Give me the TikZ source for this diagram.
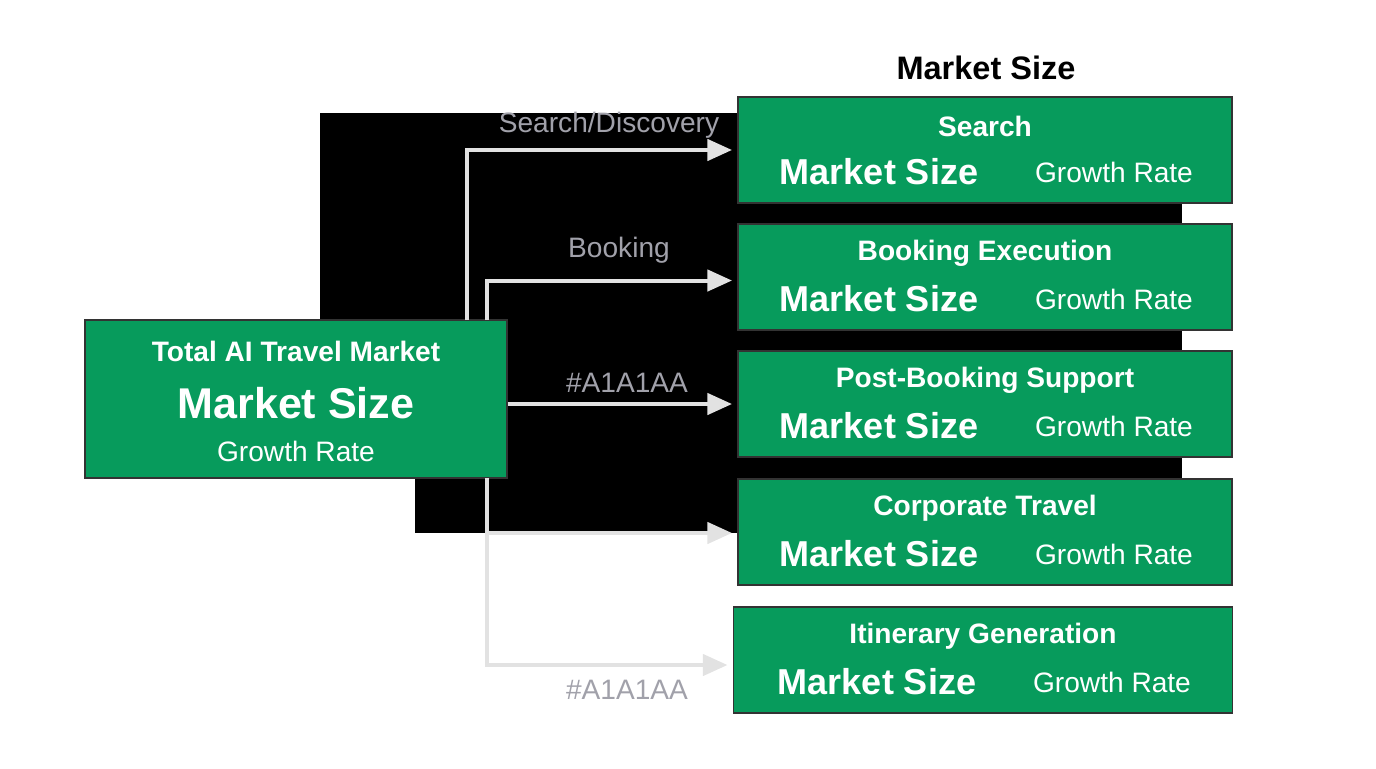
\documentclass[tikz,border=0pt]{standalone}
\usepackage{fontspec}
\setmainfont{Liberation Sans}
\usetikzlibrary{arrows.meta}
\definecolor{boxgreen}{HTML}{079B5C}
\definecolor{linkgray}{HTML}{E2E2E2}
\definecolor{labgray}{HTML}{A1A1AA}
\begin{document}
\begin{tikzpicture}[x=0.02cm,y=-0.02cm,
  seg/.style={draw=black!80,thick,fill=boxgreen,minimum width=494*0.02cm,minimum height=106*0.02cm,inner sep=0pt},
  head/.style={text=white,font=\bfseries\fontsize{16}{18}\selectfont},
  size/.style={text=white,font=\bfseries\fontsize{20.5}{23}\selectfont},
  rate/.style={text=white,font=\fontsize{16}{18}\selectfont},
  link/.style={draw=linkgray,line width=2.3pt,-{Triangle[length=14pt,width=12pt]}},
  lab/.style={text=labgray,font=\fontsize{16}{18}\selectfont}]
\useasboundingbox (0,0) rectangle (1376,768);
% dark backdrop
\fill[black] (320,113) rectangle (1182,320);
\fill[black] (415,113) rectangle (1182,533);
\node[font=\bfseries\fontsize{18.5}{21}\selectfont] (title) at (986,68) {Market Size};
% segments
\foreach \name/\cx/\cy/\w/\txt in {s1/985/150/494/Search/Discovery,s2/985/277/494/Booking Execution,s3/985/404/494/Post-Booking Support,s4/985/532/494/Corporate Travel,s5/983/660/499/Itinerary Generation}{
  \node[seg,minimum width=\w*0.02cm] (\name) at (\cx,\cy) {};
  \node[head] (\name h) at (\cx,\cy-24) {\txt};
  \node[size] (\name m) at (\cx-106,\cy+22) {Market Size};
  \node[rate] (\name r) at (\cx+129,\cy+22) {Growth Rate};
}
\node[seg,minimum width=422*0.02cm,minimum height=158*0.02cm] (tot) at (296,399) {};
\node[head] (toth) at (296,351) {Total AI Travel Market};
\node[text=white,font=\bfseries\fontsize{24.5}{27}\selectfont] (totm) at (296,403) {Market Size};
\node[rate] (totr) at (296,451) {Growth Rate};
% links
\coordinate (k1) at (467,320);
\coordinate (k2) at (487,320);
\coordinate (k4) at (487,478);
\draw[link] (k1) |- ([xshift=-3pt]s1.west);
\draw[link] (k2) |- ([xshift=-3pt,yshift=-2pt]s2.west);
\draw[link] (tot.east |- s3.west) -- ([xshift=-3pt]s3.west);
\draw[link] (k4) |- ([xshift=-3pt]s4.west |- 0,533);
\draw[link] (k4) |- ([xshift=-3pt]s5.west |- 0,665);
\node[lab] (l1) at (609,125) {Search/Discovery};
\node[lab] (l2) at (619,250) {Booking};
\node[lab] (l3) at (627,383) {\#A1A1AA};
\node[lab] (l5) at (627,690) {\#A1A1AA};
\end{tikzpicture}
\end{document}
